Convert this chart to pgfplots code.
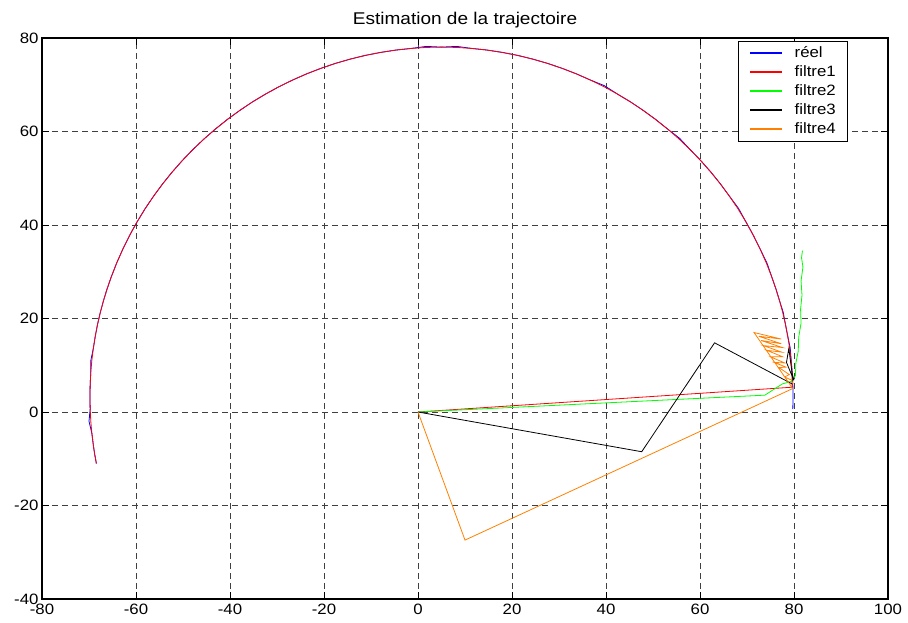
\documentclass[border=0pt]{standalone}
\usepackage{fontspec}
\setmainfont{Liberation Sans}[FakeStretch=1.12]
\usepackage{pgfplots}
\pgfplotsset{compat=1.18}

\definecolor{mlblue}{rgb}{0,0,1}
\definecolor{mlred}{rgb}{1,0,0}
\definecolor{mlgreen}{rgb}{0,1,0}
\definecolor{mlorange}{rgb}{1,0.5,0}

\begin{document}
\begin{tikzpicture}
\begin{axis}[
  scale only axis,
  width=846pt, height=561pt,
  xmin=-80, xmax=100, ymin=-40, ymax=80,
  xtick={-80,-60,...,100}, ytick={-40,-20,...,80},
  /pgf/number format/assume math mode=true,
  ticklabel style={font=\fontsize{15}{15}\selectfont},
  xticklabel style={yshift=-1pt},
  tick align=inside, major tick length=7pt,
  tick style={black, line width=0.7pt},
  axis line style={line width=1.2pt},
  grid=major,
  major grid style={black!75, line width=0.6pt, dash pattern=on 6pt off 4pt},
  title={Estimation de la trajectoire},
  title style={font=\fontsize{17}{17}\selectfont, at={(0.5,1)}, anchor=base, yshift=7pt},
  legend image code/.code={\draw[#1] (0pt,0pt) -- (32pt,0pt);},
  legend cell align=left,
  legend style={at={(axis description cs:0.9515,0.995)}, anchor=north east,
    fill=white,
    font=\fontsize{15}{15}\selectfont,
    nodes={inner sep=0pt, text height=11pt, text depth=3pt},
    row sep=5pt, column sep=12pt, inner xsep=11pt, inner ysep=5pt},
  every axis plot/.append style={line width=0.8pt},
]

% measured trajectory
\addplot[mlblue, forget plot] coordinates {
(79.75,0.64) (79.8,3.25) (79.75,5.86) (79.62,8.47) (79.39,11.07) (79.2,13.66)
(78.66,16.24) (78.17,18.80) (77.7,21.35) (76.90,23.87) (76.14,26.36) (75.29,28.83)
(74.25,31.87) (72.79,34.86) (71.35,37.79) (69.78,40.65) (68.2,43.55) (66.27,46.15)
(64.34,48.79) (62.30,51.33) (60.15,53.78) (57.89,56.14) (55.65,58.55) (53.08,60.55)
(50.54,62.59) (47.90,64.52) (45.19,66.34) (42.40,68.03) (39.65,69.8) (36.61,71.04)
(33.62,72.36) (30.58,73.54) (27.49,74.59) (24.36,75.50) (21.19,76.28) (17.99,76.91)
(14.76,77.41) (11.52,77.76) (8.26,78.2) (5.0,78.05) (1.74,78.2) (-1.52,77.76)
(-4.76,77.41) (-7.99,76.91) (-11.19,76.28) (-14.36,75.50) (-17.49,74.59) (-20.58,73.54)
(-23.62,72.36) (-26.61,71.04) (-29.54,69.60) (-32.40,68.03) (-35.19,66.34) (-37.90,64.52)
(-40.54,62.59) (-43.08,60.55) (-45.53,58.40) (-47.89,56.14) (-50.15,53.78) (-52.30,51.33)
(-54.34,48.79) (-56.27,46.15) (-58.09,43.44) (-59.78,40.65) (-61.35,37.79) (-62.79,34.86)
(-64.11,31.87) (-65.29,28.83) (-66.14,26.36) (-66.90,23.87) (-67.58,21.35) (-68.17,18.80)
(-68.66,16.24) (-69.07,13.66) (-69.6,11.07) (-69.62,8.47) (-69.75,5.86) (-69.8,3.25)
(-69.75,0.64) (-70.0,-1.97) (-69.39,-4.57) (-69.07,-7.16) (-68.78,-9.10) (-68.43,-11.02)
};

% filter 1 estimate
\addplot[mlred, forget plot] coordinates {
(0,0) (79.6,5.3) (79.6,8.5) (79.39,11.07) (79.07,13.66) (78.66,16.24)
(78.17,18.80) (77.58,21.35) (76.90,23.87) (76.14,26.36) (75.29,28.83)
(74.11,31.87) (72.79,34.86) (71.35,37.79) (69.78,40.65) (68.09,43.44)
(66.27,46.15) (64.34,48.79) (62.30,51.33) (60.15,53.78) (57.89,56.14)
(55.53,58.40) (53.08,60.55) (50.54,62.59) (47.90,64.52) (45.19,66.34)
(42.40,68.03) (39.54,69.60) (36.61,71.04) (33.62,72.36) (30.58,73.54)
(27.49,74.59) (24.36,75.50) (21.19,76.28) (17.99,76.91) (14.76,77.41)
(11.52,77.76) (8.26,77.98) (5.0,78.05) (1.74,77.98) (-1.52,77.76)
(-4.76,77.41) (-7.99,76.91) (-11.19,76.28) (-14.36,75.50) (-17.49,74.59)
(-20.58,73.54) (-23.62,72.36) (-26.61,71.04) (-29.54,69.60) (-32.40,68.03)
(-35.19,66.34) (-37.90,64.52) (-40.54,62.59) (-43.08,60.55) (-45.53,58.40)
(-47.89,56.14) (-50.15,53.78) (-52.30,51.33) (-54.34,48.79) (-56.27,46.15)
(-58.09,43.44) (-59.78,40.65) (-61.35,37.79) (-62.79,34.86) (-64.11,31.87)
(-65.29,28.83) (-66.14,26.36) (-66.90,23.87) (-67.58,21.35) (-68.17,18.80)
(-68.66,16.24) (-69.07,13.66) (-69.39,11.07) (-69.62,8.47) (-69.75,5.86)
(-69.8,3.25) (-69.75,0.64) (-69.62,-1.97) (-69.39,-4.57) (-69.07,-7.16)
(-68.78,-9.10) (-68.43,-11.02)
};

% filter 2 estimate
\addplot[mlgreen, forget plot] coordinates {
(0,0) (73.8,3.6) (77.5,6.0) (79.6,6.6) (80.3,7.8) (80.4,10.5) (80.9,13.0)
(81.0,16.0) (81.5,19.0) (81.4,22.0) (81.7,25.0) (81.5,28.0) (81.9,31.0)
(81.6,33.0) (81.8,34.5)
};

% filter 3 estimate
\addplot[black, forget plot] coordinates {
(0,0) (47.6,-8.5) (63.1,14.8) (79.6,6.0) (79.8,7.2) (78.4,10.6) (78.9,13.6)
(79.6,8.2) (80.0,6.8)
};

% filter 4 estimate
\addplot[mlorange, forget plot] coordinates {
(0,0) (10.0,-27.4) (79.7,5.0) (79.6,5.2) (71.5,17.0) (77.3,15.6) (72.5,16.2)
(77.3,14.6) (73.0,15.3) (77.5,13.8) (73.5,14.2) (77.4,12.8) (74.2,13.2)
(77.6,11.8) (75.0,11.8) (78.0,10.5) (75.8,10.6) (78.3,9.6) (76.8,9.5)
(79.0,8.0) (78.0,7.5) (79.5,6.8) (79.8,6.0)
};

% legend keys
\addlegendimage{mlblue, line width=1.1pt}
\addlegendentry{réel}
\addlegendimage{mlred, line width=1.1pt}
\addlegendentry{filtre1}
\addlegendimage{mlgreen, line width=1.1pt}
\addlegendentry{filtre2}
\addlegendimage{black, line width=1.1pt}
\addlegendentry{filtre3}
\addlegendimage{mlorange, line width=1.1pt}
\addlegendentry{filtre4}

\end{axis}
\path (current axis.south west) ++(-42pt,-24pt) coordinate (bl);
\path (current axis.north east) ++(20pt,38pt) coordinate (tr);
\path (bl) rectangle (tr);
\end{tikzpicture}
\end{document}
